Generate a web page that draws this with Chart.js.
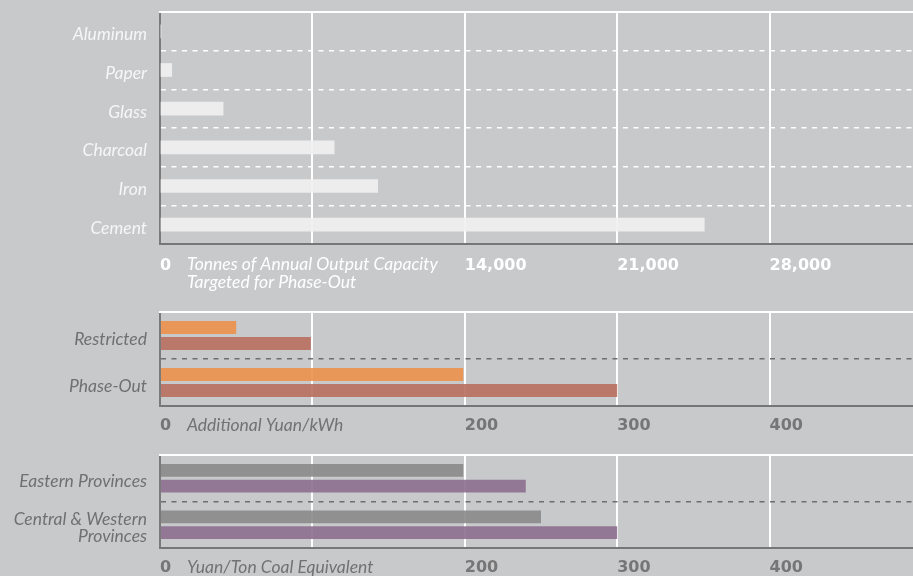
<!DOCTYPE html>
<html>
<head>
<meta charset="utf-8">
<script src="https://cdn.jsdelivr.net/npm/chart.js@4.4.0/dist/chart.umd.min.js"></script>
<style>
  html, body { margin: 0; padding: 0; background: #c8c9cb; overflow: hidden; }
  #wrap { position: relative; width: 913px; height: 576px; overflow: hidden; }
  canvas { position: absolute; left: 0; }
</style>
</head>
<body>
<div id="wrap">
  <canvas id="capacity" width="922" height="300" style="top:0"></canvas>
  <canvas id="tariff" width="922" height="143" style="top:300px"></canvas>
  <canvas id="coal" width="922" height="133" style="top:443px"></canvas>
</div>
<script>
// panel 1 - capacity targeted for phase-out (tonnes)
const materials = ['Aluminum', 'Paper', 'Glass', 'Charcoal', 'Iron', 'Cement'];
const capacityTonnes = [40, 540, 2900, 8000, 10000, 25000];
const capacityTickLabels = ['0', '', '14,000', '21,000', '28,000', ''];

// panel 2 - additional yuan/kWh
const policyGroups = ['Restricted', 'Phase-Out'];
const tariffOrange = [50, 199];
const tariffRed = [99, 300];

// panel 3 - yuan/ton coal equivalent
const regions = ['Eastern Provinces', ['Central & Western', 'Provinces']];
const coalGray = [199, 250];
const coalPurple = [240, 300];

const priceTickLabels = ['0', '', '200', '300', '400', ''];

const LABEL_FONT = 'Lato';
const TICK_FONT = 'DejaVu Sans';

// draws the white top frame line and the axis caption next to the "0"
function captionPlugin(lines, color, offset) {
  return {
    id: 'caption',
    afterDraw(chart) {
      const { ctx, chartArea } = chart;
      ctx.save();
      ctx.strokeStyle = '#ffffff';
      ctx.lineWidth = 2;
      ctx.beginPath();
      ctx.moveTo(chartArea.left - 1, chartArea.top);
      ctx.lineTo(chartArea.right, chartArea.top);
      ctx.stroke();
      ctx.font = 'italic 17.5px ' + LABEL_FONT;
      ctx.fillStyle = color;
      ctx.textBaseline = 'middle';
      lines.forEach((t, i) => {
        ctx.fillText(t, chartArea.left + 27, chartArea.bottom + offset + i * 18);
      });
      ctx.restore();
    }
  };
}

function makeOptions(cfg) {
  return {
    indexAxis: 'y',
    responsive: false,
    animation: false,
    layout: { padding: { top: 12, left: 0, right: 0, bottom: 0 } },
    plugins: { legend: { display: false }, tooltip: { enabled: false } },
    scales: {
      x: {
        min: 0,
        max: cfg.max,
        afterBuildTicks: s => { s.ticks = cfg.ticks.map(v => ({ value: v })); },
        afterFit: s => {
          s.height = cfg.axisHeight;
          s.paddingLeft = 0;
          s.paddingRight = 0;
        },
        grid: {
          color: c => c.index === 0 ? 'rgba(0,0,0,0)' : '#ffffff',
          lineWidth: 2,
          drawTicks: false
        },
        border: { color: '#767676', width: 2 },
        ticks: {
          align: 'start',
          padding: cfg.tickPad,
          color: cfg.tickColor,
          font: { family: TICK_FONT, size: 16, weight: 'bold' },
          callback: (v, i) => cfg.tickLabels[i]
        }
      },
      y: {
        afterFit: s => {
          s.width = 160;
          s.paddingTop = 0;
          s.paddingBottom = 0;
        },
        grid: {
          color: c => (c.index === 0 || c.index === cfg.count) ? 'rgba(0,0,0,0)' : cfg.dashColor,
          lineWidth: 1.5,
          drawTicks: false
        },
        border: { color: '#7a7a7a', width: 2, dash: [5, 5.5] },
        ticks: {
          padding: 13,
          labelOffset: 3.5,
          color: cfg.labelColor,
          font: { family: LABEL_FONT, size: 17.5, style: 'italic', lineHeight: 0.98 }
        }
      }
    }
  };
}

const capacityValues = [0, 7000, 14000, 21000, 28000, 35000];
const priceValues = [0, 100, 200, 300, 400, 500];

new Chart(document.getElementById('capacity'), {
  type: 'bar',
  data: {
    labels: materials,
    datasets: [{
      label: 'Tonnes',
      data: capacityTonnes,
      backgroundColor: 'rgba(240,240,240,0.92)',
      barThickness: 13
    }]
  },
  options: makeOptions({
    max: 35000, ticks: capacityValues, tickLabels: capacityTickLabels,
    axisHeight: 56, tickPad: 12, tickColor: '#ffffff',
    count: materials.length, dashColor: '#ffffff', labelColor: '#f6f6f6'
  }),
  plugins: [captionPlugin(['Tonnes of Annual Output Capacity', 'Targeted for Phase-Out'], '#ffffff', 20.5)]
});

new Chart(document.getElementById('tariff'), {
  type: 'bar',
  data: {
    labels: policyGroups,
    datasets: [
      { label: 'A', data: tariffOrange, backgroundColor: 'rgba(236,144,77,0.9)', categoryPercentage: 0.681, barPercentage: 0.8125 },
      { label: 'B', data: tariffRed, backgroundColor: 'rgba(183,111,95,0.9)', categoryPercentage: 0.681, barPercentage: 0.8125 }
    ]
  },
  options: makeOptions({
    max: 500, ticks: priceValues, tickLabels: priceTickLabels,
    axisHeight: 37, tickPad: 10, tickColor: '#767676',
    count: policyGroups.length, dashColor: '#6e6e6e', labelColor: '#707070'
  }),
  plugins: [captionPlugin(['Additional Yuan/kWh'], '#727272', 19.5)]
});

new Chart(document.getElementById('coal'), {
  type: 'bar',
  data: {
    labels: regions,
    datasets: [
      { label: 'A', data: coalGray, backgroundColor: 'rgba(137,137,137,0.9)', categoryPercentage: 0.681, barPercentage: 0.8125 },
      { label: 'B', data: coalPurple, backgroundColor: 'rgba(141,111,144,0.9)', categoryPercentage: 0.681, barPercentage: 0.8125 }
    ]
  },
  options: makeOptions({
    max: 500, ticks: priceValues, tickLabels: priceTickLabels,
    axisHeight: 28, tickPad: 10, tickColor: '#767676',
    count: regions.length, dashColor: '#6e6e6e', labelColor: '#707070'
  }),
  plugins: [captionPlugin(['Yuan/Ton Coal Equivalent'], '#727272', 19.5)]
});
</script>
</body>
</html>
